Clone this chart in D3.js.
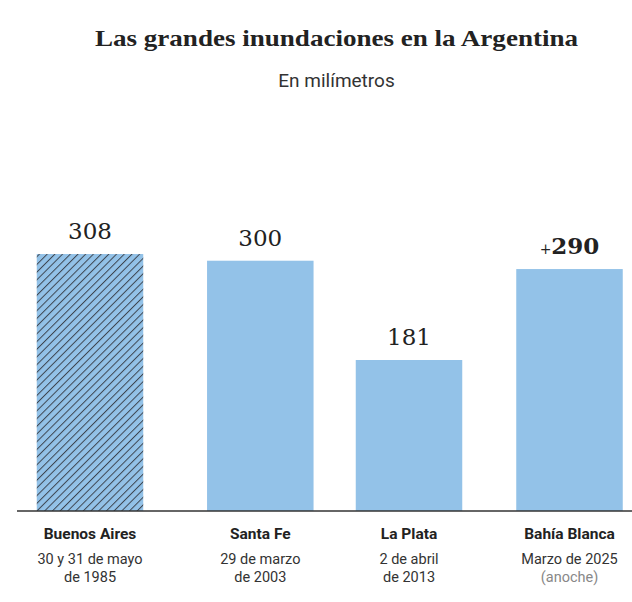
<!DOCTYPE html>
<html>
<head>
<meta charset="utf-8">
<script src="https://cdn.jsdelivr.net/npm/d3@7"></script>
<style>
  html, body { margin: 0; padding: 0; background: #fff; }
  svg { display: block; }
</style>
</head>
<body>
<div id="chart"></div>
<script>
// ---- data ----
const categories = ["Buenos Aires", "Santa Fe", "La Plata", "Bahía Blanca"];
const values = [308, 300, 181, 290];
const dateLine1 = ["30 y 31 de mayo", "29 de marzo", "2 de abril", "Marzo de 2025"];
const dateLine2 = ["de 1985", "de 2003", "de 2013", "(anoche)"];
const valuePrefix = ["", "", "", "+"];
const hatched = [true, false, false, false];
const highlighted = [false, false, false, true];
const title = "Las grandes inundaciones en la Argentina";
const subtitle = "En milímetros";

// ---- layout ----
const W = 632, H = 602;
const baseY = 511;
const barW = 106.5;

const svg = d3.select("#chart").append("svg").attr("width", W).attr("height", H);

const defs = svg.append("defs");
const pat = defs.append("pattern")
  .attr("id", "hatch")
  .attr("patternUnits", "userSpaceOnUse")
  .attr("width", 5.45).attr("height", 5.45)
  .attr("patternTransform", "rotate(45)");
pat.append("rect").attr("width", 5.45).attr("height", 5.45).attr("fill", "#93c2e8");
pat.append("line").attr("x1", 0.5).attr("y1", 0).attr("x2", 0.5).attr("y2", 5.45)
  .attr("stroke", "#3d4550").attr("stroke-width", 1);

const x = d3.scaleOrdinal().domain(categories).range([90, 260.3, 409, 569.5]);
const y = d3.scaleLinear().domain([0, 350]).range([baseY, baseY - 292]);

const rows = categories.map((c, i) => ({
  cat: c, v: values[i], d1: dateLine1[i], d2: dateLine2[i],
  pre: valuePrefix[i], hatch: hatched[i], hi: highlighted[i]
}));

// title
svg.append("text")
  .attr("x", 336.5).attr("y", 46)
  .attr("text-anchor", "middle")
  .attr("font-family", "'Liberation Serif', 'DejaVu Serif', serif")
  .attr("font-weight", "bold")
  .attr("font-size", 24)
  .attr("textLength", 483)
  .attr("lengthAdjust", "spacingAndGlyphs")
  .attr("fill", "#222")
  .text(title);

svg.append("text")
  .attr("x", 336.5).attr("y", 87)
  .attr("text-anchor", "middle")
  .attr("font-family", "Roboto, sans-serif")
  .attr("font-size", 19)
  .attr("fill", "#333")
  .text(subtitle);

// bars
svg.selectAll("rect.bar").data(rows).join("rect")
  .attr("class", "bar")
  .attr("x", d => x(d.cat) - barW / 2)
  .attr("width", barW)
  .attr("y", d => y(d.v))
  .attr("height", d => y(0) - y(d.v))
  .attr("fill", d => d.hatch ? "url(#hatch)" : "#93c2e8");

// value labels
const vl = svg.selectAll("text.val").data(rows).join("text")
  .attr("class", "val")
  .attr("x", d => x(d.cat))
  .attr("y", d => y(d.v) - 15)
  .attr("text-anchor", "middle")
  .attr("font-family", "'DejaVu Serif', 'Liberation Serif', serif")
  .attr("fill", "#222");
vl.append("tspan")
  .attr("font-size", 14)
  .attr("font-weight", "normal")
  .text(d => d.pre);
vl.append("tspan")
  .attr("font-size", 23)
  .attr("font-weight", d => d.hi ? "bold" : "normal")
  .text(d => d.v);

// axis line
svg.append("line")
  .attr("x1", 17).attr("x2", W)
  .attr("y1", baseY).attr("y2", baseY)
  .attr("stroke", "#333").attr("stroke-width", 1.5);

// category labels
const lab = svg.selectAll("g.lab").data(rows).join("g")
  .attr("class", "lab")
  .attr("transform", d => `translate(${x(d.cat)},0)`)
  .attr("font-family", "Roboto, sans-serif")
  .attr("text-anchor", "middle");
lab.append("text").attr("y", 538.5)
  .attr("font-size", 15.5).attr("font-weight", "bold").attr("fill", "#222")
  .text(d => d.cat);
lab.append("text").attr("y", 563.5)
  .attr("font-size", 14.5).attr("fill", "#333")
  .text(d => d.d1);
lab.append("text").attr("y", 581.5)
  .attr("font-size", 14.5)
  .attr("fill", (d, i) => i === 3 ? "#888" : "#333")
  .text(d => d.d2);
</script>
</body>
</html>
